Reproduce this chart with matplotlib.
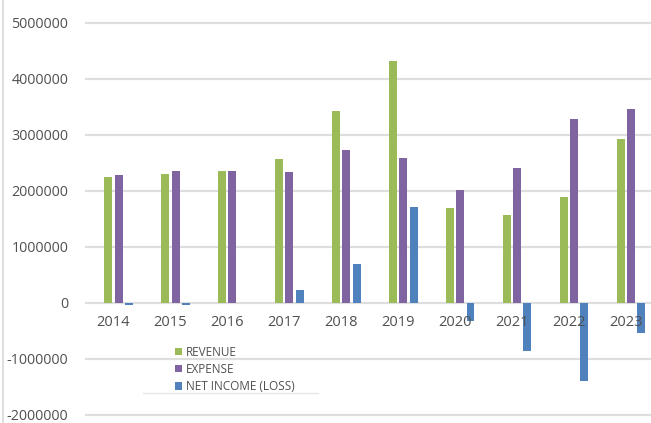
import numpy as np
import matplotlib
matplotlib.use('Agg')
import matplotlib.pyplot as plt
from matplotlib.lines import Line2D

years = ['2014', '2015', '2016', '2017', '2018', '2019', '2020', '2021', '2022', '2023']
revenue = [2250000, 2310000, 2350000, 2570000, 3420000, 4320000, 1690000, 1570000, 1890000, 2930000]
expense = [2290000, 2360000, 2360000, 2330000, 2730000, 2590000, 2020000, 2410000, 3280000, 3460000]
net_income = [-40000, -40000, 0, 230000, 690000, 1720000, -330000, -850000, -1390000, -530000]
series_names = ['REVENUE', 'EXPENSE', 'NET INCOME (LOSS)']
yticks = [-2000000, -1000000, 0, 1000000, 2000000, 3000000, 4000000, 5000000]

colors = ['#9BBB59', '#8064A2', '#4F81BD']
plt.rcParams['font.family'] = ['Open Sans', 'DejaVu Sans']

W, H = 651, 423
fig = plt.figure(figsize=(W/100, H/100), dpi=100)
ax = fig.add_axes([85/W, 0, 566/W, 1])

x = np.arange(len(years))
bw, pitch, shift = 0.14, 0.18, 0.09
for k, vals in enumerate([revenue, expense, net_income]):
    ax.bar(x + shift + (k-1)*pitch, vals, width=bw, color=colors[k],
           label=series_names[k], zorder=3)

ax.set_xlim(-0.5, 9.44)
ax.set_ylim(-2143000, 5410000)
ax.set_yticks(yticks)
ax.set_yticklabels([str(v) for v in yticks])
ax.set_xticks([])
ax.tick_params(axis='y', length=0, pad=12, labelsize=10.3, labelcolor='#505050')
ax.grid(axis='y', color='#dedede', linewidth=1.6, zorder=0)
for s in ax.spines.values(): s.set_visible(False)
for i, yr in enumerate(years):
    ax.text(i, -357000, yr, ha='center', va='center', fontsize=10.5, color='#505050', zorder=4)

leg = ax.legend(loc='upper left', bbox_to_anchor=(170/W, 1-341/H), bbox_transform=fig.transFigure,
                frameon=False, fontsize=8.5, handlelength=0.6, handleheight=0.6,
                handletextpad=0.35, labelspacing=0.35, borderaxespad=0)
for t in leg.get_texts(): t.set_color('#505050')

fig.add_artist(Line2D([3/W, 3/W], [0, 1], color='#d9d9d9', linewidth=1.2))
fig.add_artist(Line2D([143/W, 318/W], [1-393/H, 1-393/H], color='#e6e6e6', linewidth=1))

fig.savefig('out.png', dpi=100)
